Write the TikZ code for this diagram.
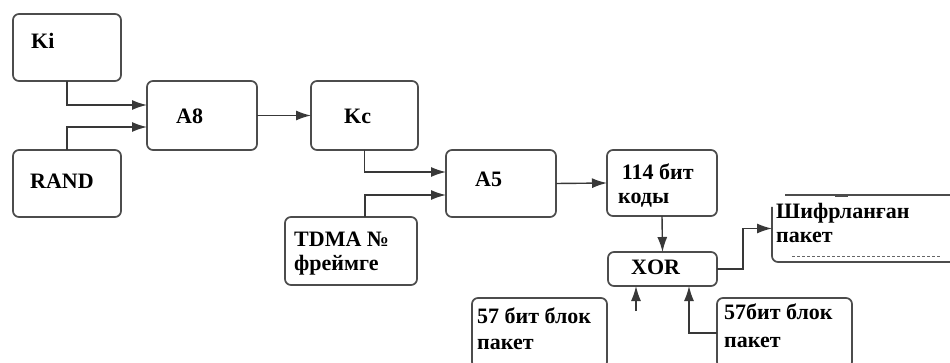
\documentclass[tikz,border=0pt]{standalone}
\usepackage{fontspec}
\setmainfont{Liberation Serif}[BoldFont={Liberation Serif Bold}]
\usetikzlibrary{arrows.meta,fit}
\begin{document}
\begin{tikzpicture}[x=1pt,y=-1pt,
  box/.style={draw=black!70,line width=1.7pt,rounded corners=6pt,inner sep=0pt,outer sep=0pt},
  ghost/.style={inner sep=0pt,outer sep=0pt},
  txt/.style={font=\fontsize{22}{24}\selectfont\bfseries,inner sep=0pt,anchor=base west,align=left},
  arr/.style={draw=black!78,line width=1.4pt,-{Latex[length=15pt,width=10pt]}},
  edge/.style={draw=black!70,line width=1.7pt}]
\useasboundingbox (0,0) rectangle (950,363);
\clip (0,0) rectangle (950,363);
% boxes
\node[box,fit={(13,14) (121,81)}] (ki) {};
\node[box,fit={(13,150) (121,217)}] (rand) {};
\node[box,fit={(147,81) (257,150)}] (a8) {};
\node[box,fit={(311,81) (418,150)}] (kc) {};
\node[box,fit={(446,150) (556,217)}] (a5) {};
\node[box,fit={(285,217) (417,285)}] (tdma) {};
\node[box,fit={(607,150) (717,216)}] (c114) {};
\node[box,fit={(608,252) (717,286)}] (xor) {};
\node[box,fit={(472,298) (607,368)}] (b57l) {};
\node[box,fit={(717,298) (852,368)}] (b57r) {};
\node[ghost,fit={(772,195) (960,262)}] (shifr) {};
\draw[edge] (785,195) -- (955,195);
\draw[edge,rounded corners=6pt] (772,207) -- (772,262) -- (958,262);
\draw[edge,line width=1pt] (835,197) -- (848,197);
\draw[draw=black!60,line width=1pt,dash pattern=on 3pt off 2pt] (792,257) -- (940,257);
% texts (anchor = baseline of the last line)
\node[txt] (tki) at (31,49) {Ki};
\node[txt] (trand) at (30,189) {RAND};
\node[txt] (ta8) at (176,124) {A8};
\node[txt] (tkc) at (344,124) {Kc};
\node[txt] (ta5) at (475,187) {A5};
\node[txt] (ttdma) at (294,271) {TDMA №\\фреймге};
\node[txt] (t114) at (618,204) {\,114 бит\\коды};
\node[txt] (txor) at (631,275) {XOR};
\node[txt] (tshifr) at (776,243) {Шифрланған\\пакет};
\node[txt] (tb57l) at (477,349) {57 бит блок\\[2pt]пакет};
\node[txt] (tb57r) at (724,347) {57бит блок\\[4pt]пакет};
% connectors
\draw[arr] (ki.south) |- ([yshift=10.5pt]a8.west);
\draw[arr] (rand.north) |- ([yshift=-11.5pt]a8.west);
\draw[arr] (a8.east) -- (kc.west);
\draw[arr] (kc.south) |- ([yshift=11.5pt]a5.west);
\draw[arr] ([xshift=14pt]tdma.north) |- ([yshift=-11.5pt]a5.west);
\draw[arr] (a5.east) -- (c114.west);
\draw[arr] (c114.south) -- (xor.north);
\draw[arr] (xor.east) -- ++(26,0) |- (shifr.west);
\draw[arr] (b57r.west) -| ([xshift=26.5pt]xor.south);
\coordinate (stub) at (636,311);
\draw[arr] (stub) -- (stub |- xor.south);
\end{tikzpicture}
\end{document}
